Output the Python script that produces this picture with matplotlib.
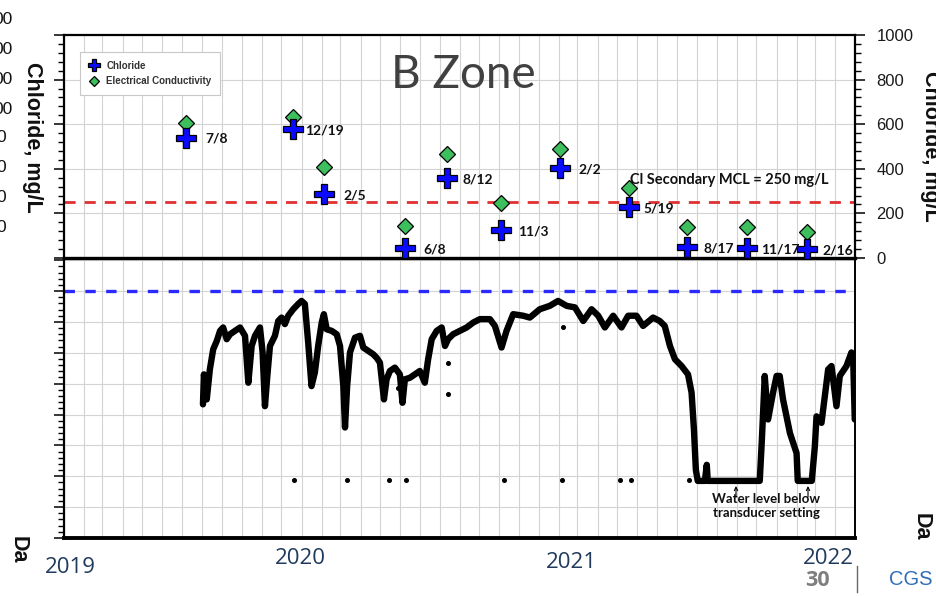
import matplotlib
matplotlib.use("Agg")
import matplotlib.pyplot as plt
import numpy as np
import pandas as pd
from matplotlib.ticker import MultipleLocator, FixedLocator
from matplotlib.lines import Line2D

plt.rcParams['lines.scale_dashes'] = False

# ---------------- data ----------------
sample_dates = ["2019-07-08", "2019-12-19", "2020-02-05", "2020-06-08", "2020-08-12",
                "2020-11-03", "2021-02-02", "2021-05-19", "2021-08-17", "2021-11-17",
                "2022-02-16"]
sample_labels = ["7/8", "12/19", "2/5", "6/8", "8/12", "11/3", "2/2", "5/19", "8/17",
                 "11/17", "2/16"]
chloride = [540, 577, 287, 43, 358, 126, 405, 230, 48, 43, 40]
conductivity = [604, 634, 410, 143, 465, 248, 487, 313, 138, 141, 118]
mcl_value = 250

# water level record (decimal year, relative level)
wl_year = [2019.585, 2019.589, 2019.601, 2019.614, 2019.628, 2019.643, 2019.657, 2019.670,
           2019.685, 2019.699, 2019.720, 2019.741, 2019.762, 2019.776, 2019.790, 2019.804,
           2019.825, 2019.836, 2019.846, 2019.856, 2019.867, 2019.888, 2019.902, 2019.916,
           2019.930, 2019.944, 2019.965, 2019.986, 2020.000, 2020.014, 2020.028, 2020.042,
           2020.056, 2020.070, 2020.085, 2020.094, 2020.106, 2020.127, 2020.148, 2020.162,
           2020.176, 2020.183, 2020.192, 2020.204, 2020.225, 2020.246, 2020.260, 2020.281,
           2020.302, 2020.316, 2020.330, 2020.347, 2020.358, 2020.372, 2020.393, 2020.414,
           2020.425, 2020.435, 2020.456, 2020.477, 2020.498, 2020.519, 2020.533, 2020.548,
           2020.569, 2020.590, 2020.604, 2020.617, 2020.638, 2020.667, 2020.695, 2020.723,
           2020.751, 2020.793, 2020.814, 2020.842, 2020.863, 2020.891, 2020.933, 2020.961,
           2021.003, 2021.045, 2021.080, 2021.116, 2021.151, 2021.186, 2021.221, 2021.249,
           2021.277, 2021.312, 2021.347, 2021.375, 2021.410, 2021.438, 2021.480, 2021.508,
           2021.529, 2021.551, 2021.572, 2021.600, 2021.627, 2021.642, 2021.652, 2021.660,
           2021.668, 2021.698, 2021.706, 2021.710, 2021.929, 2021.938, 2021.950, 2021.964,
           2021.985, 2022.000, 2022.013, 2022.027, 2022.056, 2022.084, 2022.089, 2022.148,
           2022.161, 2022.168, 2022.189, 2022.217, 2022.231, 2022.252, 2022.266, 2022.294,
           2022.315, 2022.322, 2022.329]
wl_level = [4.33, 5.30, 4.49, 5.46, 6.11, 6.38, 6.71, 6.82,
            6.44, 6.60, 6.71, 6.82, 6.55, 5.03, 6.22, 6.55,
            6.82, 6.02, 4.27, 5.25, 6.22, 6.55, 7.03, 7.14,
            6.93, 7.20, 7.41, 7.58, 7.68, 7.58, 6.33, 4.92,
            5.36, 6.22, 6.98, 7.25, 6.76, 6.71, 6.60, 6.22,
            4.92, 3.58, 4.92, 6.01, 6.49, 6.55, 6.17, 6.06,
            5.95, 5.84, 5.68, 4.49, 5.14, 5.41, 5.52, 5.30,
            4.38, 5.14, 5.19, 5.30, 5.41, 5.03, 5.79, 6.44,
            6.71, 6.82, 6.22, 6.44, 6.60, 6.71, 6.82, 6.98,
            7.09, 7.09, 6.87, 6.17, 6.71, 7.25, 7.20, 7.14,
            7.41, 7.52, 7.68, 7.52, 7.47, 7.03, 7.41, 7.20,
            6.82, 7.20, 6.82, 7.20, 7.20, 6.87, 7.14, 7.03,
            6.87, 6.22, 5.79, 5.57, 5.30, 4.71, 3.51, 2.21,
            1.85, 1.85, 2.37, 1.85, 1.85, 3.19, 5.25, 3.84,
            4.71, 5.25, 5.25, 4.49, 3.40, 2.75, 1.85, 1.85,
            2.97, 3.94, 3.73, 5.46, 5.57, 4.27, 5.25, 5.57,
            6.01, 5.90, 3.84]
# isolated readings
dot_year = [2020.617, 2020.617, 2020.407, 2021.101, 2019.968, 2020.191, 2020.368,
            2020.439, 2020.852, 2021.096, 2021.340, 2021.386, 2021.630]
dot_level = [5.68, 4.65, 4.87, 6.84, 1.89, 1.89, 1.89, 1.89, 1.89, 1.89, 1.89, 1.89, 1.89]
reference_level = 8.0

year_labels = ["2019", "2020", "2021", "2022"]


def to_year(d):
    ts = pd.Timestamp(d)
    days = 366 if ts.is_leap_year else 365
    return ts.year + (ts.dayofyear - 1) / days


sample_x = [to_year(d) for d in sample_dates]
month_pos = [to_year(m) for m in pd.date_range("2019-01-01", "2022-05-01", freq="MS")]

# ---------------- figure ----------------
W_PX, H_PX = 936, 596
fig = plt.figure(figsize=(W_PX / 100, H_PX / 100), dpi=100)


def fx(px):
    return px / W_PX


def fy(py):
    return 1 - py / H_PX


AX_L, AX_R = 64, 855
ax_bot = fig.add_axes([fx(AX_L), fy(538), fx(AX_R - AX_L), (538 - 258) / H_PX])
ax_top = fig.add_axes([fx(AX_L), fy(258), fx(AX_R - AX_L), (258 - 35) / H_PX])

XMIN, XMAX = 2019.0, 2022.33
grid_kw = dict(color="#d3d3d3", lw=0.8)

# ---- top panel ----
ax = ax_top
ax.set_xlim(XMIN, XMAX)
ax.set_ylim(0, 1000)
ax.xaxis.set_major_locator(FixedLocator(month_pos))
ax.tick_params(axis="x", which="both", length=0, labelbottom=False)
ax.grid(True, axis="x", **grid_kw)
ax.yaxis.set_major_locator(MultipleLocator(200))
ax.yaxis.set_minor_locator(MultipleLocator(40))
ax.grid(True, axis="y", which="major", **grid_kw)
ax.set_axisbelow(True)
ax.tick_params(axis="y", which="both", direction="out", left=True, right=True,
               labelleft=False, labelright=True)
ax.tick_params(axis="y", which="major", length=7.5, width=1.1, pad=8,
               labelsize=12, labelcolor="#1a1a1a")
ax.tick_params(axis="y", which="minor", length=4.5, width=1.0)
for lab in ax.get_yticklabels():
    lab.set_fontfamily("Liberation Sans")
for side in ["top", "left", "right"]:
    ax.spines[side].set_linewidth(1.6)
ax.spines["bottom"].set_linewidth(2.4)

ax.axhline(mcl_value, color="#e03030", lw=2.0, dashes=(8, 6.5), zorder=2)

h_cl, = ax.plot(sample_x, chloride, ls="none", marker="P", ms=14.5, mfc="#0a0aff",
                mec="black", mew=0.9, zorder=6, label="Chloride")
h_ec, = ax.plot(sample_x, conductivity, ls="none", marker="D", ms=8.6, mfc="#3cbf5c",
                mec="black", mew=0.9, zorder=5, label="Electrical Conductivity")

label_dx_px = [19, 12, 19, 19, 16, 17, 19, 15, 16, 14, 16]
for x, yv, lab, dx in zip(sample_x, chloride, sample_labels, label_dx_px):
    ax.annotate(lab, (x, yv), xytext=(dx * 0.72, -1), textcoords="offset points",
                ha="left", va="center", fontsize=10, fontweight="bold",
                family="Lato", color="#111111", zorder=7)

ax.text((630 - AX_L) / (AX_R - AX_L), 1 - (184 - 35) / 223, "Cl Secondary MCL = 250 mg/L",
        transform=ax.transAxes, ha="left", va="baseline", fontsize=10.5,
        fontweight="bold", family="Lato", color="#111111")
ax.text((463 - AX_L) / (AX_R - AX_L), 1 - (88 - 35) / 223, "B Zone",
        transform=ax.transAxes, ha="center", va="baseline", fontsize=33,
        family="Lato", fontweight="normal", color="#404040")

leg = ax.legend(handles=[h_cl, h_ec], loc="upper left",
                bbox_to_anchor=((80 - AX_L) / (AX_R - AX_L), 1 - (52 - 35) / 223),
                borderaxespad=0, frameon=True, fancybox=False, framealpha=1,
                edgecolor="#c8c8c8", markerscale=0.55, handlelength=1.0,
                handletextpad=0.8, labelspacing=0.55, borderpad=0.9,
                prop={"family": "Liberation Sans", "weight": "bold", "size": 7.0})
for t in leg.get_texts():
    t.set_color("#333333")
leg.get_frame().set_linewidth(0.8)

# ---- bottom panel ----
ax = ax_bot
ax.set_xlim(XMIN, XMAX)
ax.set_ylim(0, 9.07)
ax.xaxis.set_major_locator(FixedLocator(month_pos))
ax.tick_params(axis="x", which="both", length=0, labelbottom=False)
ax.grid(True, axis="x", **grid_kw)
ax.yaxis.set_major_locator(MultipleLocator(1))
ax.yaxis.set_minor_locator(MultipleLocator(0.2))
ax.grid(True, axis="y", which="major", **grid_kw)
ax.set_axisbelow(True)
ax.tick_params(axis="y", which="both", direction="out", left=True, right=False,
               labelleft=False)
ax.tick_params(axis="y", which="major", length=7.5, width=1.1)
ax.tick_params(axis="y", which="minor", length=4.0, width=1.0)
ax.spines["top"].set_visible(False)
ax.spines["left"].set_linewidth(1.6)
ax.spines["right"].set_linewidth(1.4)
ax.spines["bottom"].set_linewidth(2.8)

ax.axhline(reference_level, color="#2a2aff", lw=2.4, dashes=(7.5, 7.5), zorder=2)
ax.plot(wl_year, wl_level, color="black", lw=4.6, solid_joinstyle="round",
        solid_capstyle="round", zorder=4)
ax.plot(dot_year, dot_level, ls="none", marker="o", ms=2.6, color="black", zorder=4)

ax.text((766 - AX_L) / (AX_R - AX_L), (538 - 506) / 280,
        "Water level below\ntransducer setting", transform=ax.transAxes,
        ha="center", va="center", fontsize=9.5, fontweight="bold", family="Lato",
        color="#111111", linespacing=1.25)
for ax_px in (736, 808):
    xa = (ax_px - AX_L) / (AX_R - AX_L)
    ax.annotate("", xy=(xa, (538 - 486) / 280), xytext=(xa, (538 - 497) / 280),
                xycoords="axes fraction", textcoords="axes fraction",
                arrowprops=dict(arrowstyle="->", lw=0.8, color="black",
                                shrinkA=0, shrinkB=0, mutation_scale=6))

# ---------------- slide overlay text ----------------
for lab, cx, base in zip(year_labels, [70.5, 300.5, 571.5, 828.5], [572.7, 564, 567.7, 564]):
    fig.text(fx(cx), fy(base), lab, ha="center", va="baseline", fontsize=16,
             family="Open Sans", color="#1f3a5c")

fig.text(fx(817.5), fy(586), "30", ha="center", va="baseline", fontsize=15.5,
         fontweight="bold", family="Open Sans", color="#7f7f7f")
fig.add_artist(Line2D([fx(857), fx(857)], [fy(566), fy(592)], color="#666666", lw=1.0))
fig.text(fx(889), fy(585), "CGS", ha="left", va="baseline", fontsize=14.5,
         family="Liberation Sans", color="#2f6eb5")

fig.text(fx(32), fy(137), "Chloride, mg/L", rotation=270, ha="center", va="center",
         fontsize=15.5, fontweight="bold", family="Liberation Sans", color="#111111")
fig.text(fx(931), fy(146), "Chloride, mg/L", rotation=270, ha="center", va="center",
         fontsize=15.5, fontweight="bold", family="Liberation Sans", color="#111111")
fig.text(fx(18), fy(550), "Da", rotation=270, ha="center", va="center",
         fontsize=15.5, fontweight="bold", family="Liberation Sans", color="#111111")
fig.text(fx(921), fy(527), "Da", rotation=270, ha="center", va="center",
         fontsize=15.5, fontweight="bold", family="Liberation Sans", color="#111111")

for yy in (20, 50, 80, 110):
    fig.text(fx(13), fy(yy), "00", ha="right", va="center", fontsize=12.5,
             family="Liberation Sans", color="#111111")
for yy in (137, 167, 197, 227):
    fig.text(fx(6), fy(yy), "0", ha="right", va="center", fontsize=12.5,
             family="Liberation Sans", color="#111111")

fig.savefig("out.png", dpi=100)
